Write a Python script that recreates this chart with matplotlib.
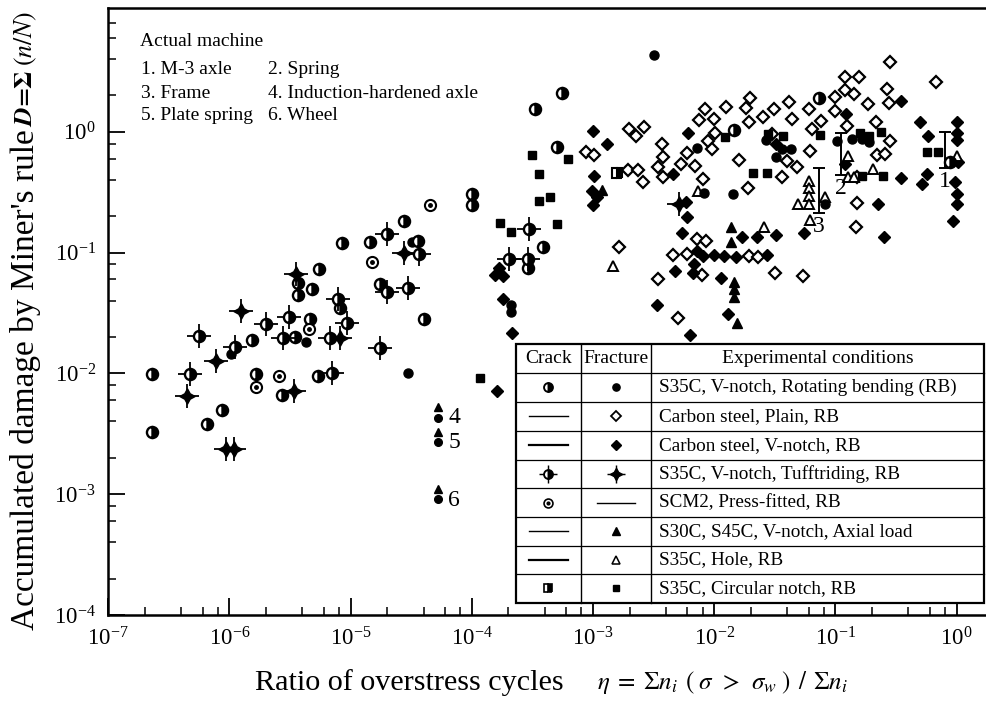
import matplotlib
matplotlib.use("Agg")
import matplotlib.pyplot as plt
from matplotlib.patches import Rectangle
from matplotlib.ticker import LogLocator, NullFormatter

plt.rcParams["font.family"] = ["Liberation Serif", "DejaVu Serif"]
plt.rcParams["mathtext.fontset"] = "stix"

# ---- data (eta, D) ----
# S35C, V-notch, rotating bending: crack (half circle) / fracture (filled circle)
rb_crack_x = [2.3e-7, 2.3e-7, 6.5e-7, 8.7e-7, 1.53e-6, 1.65e-6, 2.7e-6, 3.5e-6, 3.7e-6, 3.7e-6,
              4.6e-6, 4.8e-6, 5.4e-6, 5.5e-6, 8.2e-6, 8.5e-6, 1.44e-5, 2.75e-5, 3.6e-5, 1.75e-5,
              4.0e-5, 1.0e-4, 1.0e-4, 3.3e-4, 5.5e-4, 5.0e-4, 3.9e-4, 2.9e-4, 1.45e-2, 7.3e-2, 0.88]
rb_crack_y = [9.9e-3, 3.3e-3, 3.8e-3, 5.0e-3, 1.89e-2, 9.9e-3, 6.6e-3, 2.0e-2, 5.6e-2, 4.5e-2,
              2.8e-2, 5.0e-2, 9.5e-3, 7.3e-2, 3.5e-2, 0.12, 0.122, 0.182, 0.124, 5.5e-2,
              2.8e-2, 0.305, 0.247, 1.54, 2.09, 0.75, 0.111, 7.4e-2, 1.03, 1.9, 0.56]
rb_frac_x = [1.03e-6, 4.3e-6, 3.0e-5, 3.2e-5, 2.1e-4, 2.1e-4, 3.2e-3, 7.2e-3, 8.2e-3, 1.43e-2,
             2.67e-2, 3.23e-2, 3.6e-2, 4.3e-2, 8.2e-2, 0.103, 0.137, 0.166, 0.189]
rb_frac_y = [1.44e-2, 1.82e-2, 1.0e-2, 0.122, 3.7e-2, 3.25e-2, 4.3, 0.733, 0.311, 0.305,
             0.854, 0.617, 0.719, 0.719, 0.252, 0.838, 0.871, 0.871, 0.822]

# Carbon steel, plain, RB: fracture (open diamond)
plain_x = [8.7e-4, 1.02e-3, 1.94e-3, 2.35e-3, 2.58e-3, 1.98e-3, 2.26e-3, 2.63e-3, 1.64e-3, 3.43e-3,
           5.0e-3, 3.7e-3, 3.77e-3, 3.43e-3, 3.77e-3, 5.3e-3, 5.96e-3, 7.5e-3, 6.9e-3, 7.2e-3,
           4.56e-3, 5.96e-3, 8.4e-3, 1.0e-2, 1.25e-2, 1.83e-2, 1.97e-2, 1.93e-2, 2.52e-2, 3.1e-2,
           4.13e-2, 4.4e-2, 6.0e-2, 7.6e-2, 9.9e-2, 9.9e-2, 1.01e-2, 8.9e-3, 9.6e-3, 1.6e-2,
           8.1e-3, 1.9e-2, 3.6e-2, 4.0e-2, 4.8e-2, 3.0e-2, 6.2e-2, 6.4e-2, 8.6e-3, 1.93e-2,
           2.29e-2, 7.9e-3, 3.2e-2, 5.4e-2, 0.282, 0.120, 0.156, 0.120, 0.142, 0.266,
           0.185, 0.276, 0.675, 0.124, 0.216, 0.282, 0.22, 0.256, 0.150, 0.150, 0.148]
plain_y = [0.679, 0.641, 0.482, 0.482, 0.383, 1.05, 0.921, 1.09, 0.111, 6.0e-2,
           2.9e-2, 0.791, 0.617, 0.51, 0.422, 0.54, 0.666, 1.25, 0.52, 0.129,
           9.5e-2, 9.7e-2, 1.54, 1.27, 1.60, 1.57, 1.90, 1.20, 1.32, 1.54,
           1.76, 1.27, 1.54, 1.23, 1.94, 1.48, 0.975, 0.838, 0.719, 0.583,
           0.406, 0.342, 0.422, 0.572, 0.51, 0.957, 0.692, 1.05, 0.124, 9.35e-2,
           9.2e-2, 6.5e-2, 6.8e-2, 6.4e-2, 3.78, 2.84, 2.84, 2.21, 2.05, 2.26,
           1.70, 1.73, 2.58, 1.11, 1.20, 0.838, 0.641, 0.654, 0.422, 0.257, 0.163]

# Carbon steel, V-notch, RB: fracture (filled diamond)
vn_x = [1.55e-4, 1.67e-4, 1.81e-4, 1.81e-4, 2.14e-4, 1.61e-4,
        1.0e-3, 1.30e-3, 1.02e-3, 9.8e-4, 1.08e-3, 1.0e-3,
        3.37e-3, 6.3e-3, 4.56e-3, 6.07e-3, 5.84e-3, 5.96e-3, 5.41e-3, 4.74e-3, 6.8e-3, 6.67e-3,
        7.2e-3, 8.07e-3, 1.0e-2, 1.2e-2, 1.51e-2, 2.72e-2, 1.69e-2, 2.25e-2, 3.23e-2, 5.5e-2,
        1.14e-2, 1.30e-2, 3.23e-2,
        0.347, 0.122, 0.120, 0.347, 0.224, 0.251,
        0.498, 0.579, 0.569, 0.517,
        1.0, 1.0, 1.0, 1.03, 0.97, 1.0, 1.0, 0.93]
vn_y = [6.5e-2, 7.4e-2, 6.4e-2, 4.1e-2, 2.16e-2, 7.1e-3,
        1.01, 0.791, 0.43, 0.323, 0.288, 0.247,
        3.68e-2, 2.08e-2, 0.447, 0.975, 0.262, 0.197, 0.145, 7.0e-2, 8.0e-2, 6.8e-2,
        0.103, 9.35e-2, 9.5e-2, 9.35e-2, 9.2e-2, 9.5e-2, 0.134, 0.134, 0.140, 0.145,
        6.15e-2, 3.1e-2, 0.791,
        1.80, 1.40, 0.54, 0.414, 0.252, 0.134,
        1.20, 0.921, 0.447, 0.369,
        1.20, 0.975, 0.854, 0.561, 0.383, 0.305, 0.252, 0.182]

# S35C, V-notch, Tufftriding, RB
tuff_crack_x = [4.7e-7, 5.6e-7, 1.11e-6, 2.0e-6, 2.76e-6, 3.1e-6, 6.75e-6, 7.0e-6, 7.9e-6,
                9.3e-6, 1.75e-5, 2.0e-5, 2.0e-5, 3.0e-5, 3.66e-5, 2.02e-4, 2.9e-4, 2.96e-4]
tuff_crack_y = [9.9e-3, 2.04e-2, 1.65e-2, 2.56e-2, 1.96e-2, 2.92e-2, 1.96e-2, 1.0e-2, 4.1e-2,
                2.6e-2, 1.62e-2, 0.142, 4.7e-2, 5.1e-2, 9.7e-2, 8.8e-2, 8.8e-2, 0.157]
tuff_frac_x = [4.5e-7, 7.7e-7, 9.4e-7, 1.09e-6, 1.24e-6, 3.54e-6, 3.41e-6, 8.2e-6, 2.75e-5, 5.1e-3]
tuff_frac_y = [6.5e-3, 1.26e-2, 2.36e-3, 2.36e-3, 3.3e-2, 6.6e-2, 7.1e-3, 1.96e-2, 9.9e-2, 0.252]

# SCM2, press-fitted, RB: crack only
press_x = [1.65e-6, 2.56e-6, 4.5e-6, 1.5e-5, 4.5e-5]
press_y = [7.7e-3, 9.5e-3, 2.33e-2, 8.3e-2, 0.247]

# S30C, S45C, V-notch, axial load: fracture (filled triangle)
axial_x = [1.18e-3, 1.37e-2, 1.37e-2, 1.45e-2, 1.45e-2, 1.45e-2, 1.54e-2]
axial_y = [0.329, 0.163, 0.122, 5.7e-2, 5.0e-2, 4.3e-2, 2.6e-2]

# S35C, hole, RB: fracture (open triangle)
hole_x = [1.46e-3, 7.3e-3, 2.57e-2, 6.0e-2, 6.0e-2, 6.0e-2, 6.0e-2, 4.9e-2, 6.2e-2, 8.2e-2,
          0.127, 0.127, 0.142, 0.204, 1.0]
hole_y = [7.7e-2, 0.323, 0.163, 0.391, 0.342, 0.294, 0.252, 0.252, 0.186, 0.288,
          0.629, 0.422, 0.422, 0.491, 0.629]

# S35C, circular notch, RB
circ_crack_x = [1.57e-3]
circ_crack_y = [0.455]
circ_frac_x = [1.17e-4, 1.71e-4, 2.1e-4, 3.13e-4, 3.58e-4, 3.58e-4, 4.41e-4, 5.04e-4, 6.21e-4,
               1.22e-2, 2.09e-2, 2.72e-2, 2.77e-2, 3.69e-2, 7.45e-2, 0.159, 0.189, 0.237,
               0.166, 0.247, 0.569, 0.70]
circ_frac_y = [9.1e-3, 0.175, 0.148, 0.641, 0.447, 0.267, 0.288, 0.172, 0.594,
               0.904, 0.455, 0.455, 0.957, 0.921, 0.94, 0.975, 0.921, 0.99,
               0.43, 0.43, 0.679, 0.679]

# actual machines
mach_x = [5.3e-5, 5.3e-5, 5.3e-5]
mach_tri_y = [5.3e-3, 3.3e-3, 1.1e-3]
mach_circ_y = [4.3e-3, 2.7e-3, 9.1e-4]
mach_labels = ["4", "5", "6"]
bar_x = [0.80, 0.111, 7.3e-2]
bar_lo = [0.50, 0.438, 0.212]
bar_hi = [0.99, 0.975, 0.501]
bar_labels = ["1", "2", "3"]

machine_names = ["1. M-3 axle", "2. Spring", "3. Frame", "4. Induction-hardened axle",
                 "5. Plate spring", "6. Wheel"]
table_rows = [("half_o", "o_fill", "S35C, V-notch, Rotating bending (RB)"),
              ("line", "D_open", "Carbon steel, Plain, RB"),
              ("line2", "D_fill", "Carbon steel, V-notch, RB"),
              ("tuff_c", "tuff_f", "S35C, V-notch, Tufftriding, RB"),
              ("dot_o", "line", "SCM2, Press-fitted, RB"),
              ("line", "tri_fill", "S30C, S45C, V-notch, Axial load"),
              ("line2", "tri_open", "S35C, Hole, RB"),
              ("half_s", "s_fill", "S35C, Circular notch, RB")]

fig = plt.figure(figsize=(9.87, 7.01), dpi=100)
ax = fig.add_axes([0.1097, 0.1227, 0.8903, 0.8659])
ax.set_xscale("log"); ax.set_yscale("log")
ax.set_xlim(1e-7, 1.78); ax.set_ylim(1e-4, 10.6)


def draw(kind, x, y, s=1.0, **kw):
    k = dict(ls="none", **kw)
    z = k.pop("zorder", 3)
    if kind == "half_o":
        ax.plot(x, y, "o", ms=8*s, fillstyle="right", mfc="k", markerfacecoloralt="w",
                mec="k", mew=1.7*s, zorder=z, **k)
    elif kind == "o_fill":
        ax.plot(x, y, "o", ms=6.5*s, color="k", zorder=z, **k)
    elif kind == "D_open":
        ax.plot(x, y, "D", ms=6*s, mfc="w", mec="k", mew=1.6*s, zorder=z, **k)
    elif kind == "D_fill":
        ax.plot(x, y, "D", ms=6*s, color="k", zorder=z, **k)
    elif kind == "tuff_c":
        ax.plot(x, y, "+", ms=17*s, color="k", mew=1.3*s, zorder=z, **k)
        ax.plot(x, y, "o", ms=8*s, fillstyle="right", mfc="k", markerfacecoloralt="w",
                mec="k", mew=1.7*s, zorder=z + 0.1, **k)
    elif kind == "tuff_f":
        ax.plot(x, y, "+", ms=17*s, color="k", mew=1.3*s, zorder=z, **k)
        ax.plot(x, y, marker=(4, 1, 0), ms=11*s, color="k", zorder=z + 0.1, **k)
    elif kind == "dot_o":
        ax.plot(x, y, "o", ms=8*s, mfc="w", mec="k", mew=1.5*s, zorder=z, **k)
        ax.plot(x, y, "o", ms=2.5*s, color="k", zorder=z + 0.1, **k)
    elif kind == "tri_fill":
        ax.plot(x, y, "^", ms=7*s, color="k", zorder=z, **k)
    elif kind == "tri_open":
        ax.plot(x, y, "^", ms=7*s, mfc="w", mec="k", mew=1.4*s, zorder=z, **k)
    elif kind == "half_s":
        ax.plot(x, y, "s", ms=6.5*s, fillstyle="right", mfc="k", markerfacecoloralt="w",
                mec="k", mew=1.5*s, zorder=z, **k)
    elif kind == "s_fill":
        ax.plot(x, y, "s", ms=5.5*s, color="k", zorder=z, **k)


draw("D_open", plain_x, plain_y)
draw("D_fill", vn_x, vn_y)
draw("tri_open", hole_x, hole_y)
draw("tri_fill", axial_x, axial_y)
draw("s_fill", circ_frac_x, circ_frac_y)
draw("half_s", circ_crack_x, circ_crack_y)
draw("o_fill", rb_frac_x, rb_frac_y)
draw("half_o", rb_crack_x, rb_crack_y)
draw("tuff_c", tuff_crack_x, tuff_crack_y)
draw("tuff_f", tuff_frac_x, tuff_frac_y)
draw("dot_o", press_x, press_y)

# actual machines
ax.plot(mach_x, mach_tri_y, "^", ms=6, color="k", ls="none", zorder=4)
ax.plot(mach_x, mach_circ_y, "o", ms=5.5, color="k", ls="none", zorder=4)
for xx, yy, lab in zip(mach_x, mach_tri_y, mach_labels):
    ax.annotate(lab, (xx, yy), xytext=(7, -8), textcoords="offset points",
                fontsize=17, va="center", ha="left")
ax.errorbar(bar_x, [(l + h) / 2 for l, h in zip(bar_lo, bar_hi)], fmt="none",
            yerr=[[(l + h) / 2 - l for l, h in zip(bar_lo, bar_hi)],
                  [h - (l + h) / 2 for l, h in zip(bar_lo, bar_hi)]],
            ecolor="k", elinewidth=1.4, capsize=4, capthick=1.4, zorder=4)
for xx, lo, lab in zip(bar_x, bar_lo, bar_labels):
    ax.annotate(lab, (xx, lo), xytext=(0, -2), textcoords="offset points",
                fontsize=17, va="top", ha="center")

# axes styling
ax.set_xticks([1e-7, 1e-6, 1e-5, 1e-4, 1e-3, 1e-2, 1e-1, 1e0])
ax.set_yticks([1e-4, 1e-3, 1e-2, 1e-1, 1e0])
ax.xaxis.set_minor_locator(LogLocator(base=10, subs=(2, 4, 6, 8), numticks=20))
ax.yaxis.set_minor_locator(LogLocator(base=10, subs=(2, 4, 6, 8), numticks=20))
ax.xaxis.set_minor_formatter(NullFormatter()); ax.yaxis.set_minor_formatter(NullFormatter())
ax.tick_params(which="major", direction="in", length=12, width=1.3, labelsize=16.5, pad=9)
ax.tick_params(which="minor", direction="in", length=6, width=1.1)
ax.tick_params(top=False, right=False)
for sp in ["left", "bottom", "top"]:
    ax.spines[sp].set_linewidth(1.8)
ax.spines["right"].set_visible(False)

# axis labels as figure text
fig.text(255 / 987, 1 - 683 / 701, "Ratio of overstress cycles", fontsize=21.7,
         ha="left", va="center")
fig.text(597 / 987, 1 - 683 / 701,
         r"$\eta\;=\;\Sigma n_i\,\;(\;\sigma\;\,>\;\,\sigma_w\;)\,\;/\,\;\Sigma n_i$",
         fontsize=18, ha="left", va="center")
fig.text(26 / 987, 1 - 630 / 701, "Accumulated damage by Miner's rule", fontsize=24,
         rotation=90, ha="center", va="bottom")
fig.text(26 / 987, 1 - 127 / 701, r"$\boldsymbol{D\!=\!\Sigma}\;(n/N)$", fontsize=18.5,
         rotation=90, ha="center", va="bottom")

# actual machine key
fig.text(140 / 987, 1 - 41 / 701, "Actual machine", fontsize=14, ha="left", va="center")
for i, name in enumerate(machine_names):
    fig.text((141 if i % 2 == 0 else 268) / 987, 1 - (70 + 23 * (i // 2)) / 701, name,
             fontsize=14, ha="left", va="center")

# legend table (axes fractions)
tx0, tx1, tc1, tc2 = 0.4636, 0.9966, 0.538, 0.6173
rows_y = [0.4465, 0.3987, 0.3509, 0.3031, 0.2554, 0.2092, 0.1614, 0.1137, 0.0675, 0.0198]
T = ax.transAxes
ax.add_patch(Rectangle((tx0, rows_y[-1]), tx1 - tx0, rows_y[0] - rows_y[-1], transform=T,
                       fc="w", ec="k", lw=1.6, zorder=6, clip_on=False))
for yy in rows_y[1:-1]:
    ax.plot([tx0, tx1], [yy, yy], transform=T, color="k", lw=0.9, zorder=7, clip_on=False)
for xx in (tc1, tc2):
    ax.plot([xx, xx], [rows_y[-1], rows_y[0]], transform=T, color="k", lw=1.0, zorder=7,
            clip_on=False)
hy = (rows_y[0] + rows_y[1]) / 2
ax.text((tx0 + tc1) / 2, hy, "Crack", transform=T, fontsize=14, ha="center", va="center", zorder=8)
ax.text((tc1 + tc2) / 2, hy, "Fracture", transform=T, fontsize=14, ha="center", va="center", zorder=8)
ax.text((tc2 + tx1) / 2, hy, "Experimental conditions", transform=T, fontsize=14,
        ha="center", va="center", zorder=8)
for i, (ck, fk, label) in enumerate(table_rows):
    yc = (rows_y[i + 1] + rows_y[i + 2]) / 2
    for kind, xc in ((ck, (tx0 + tc1) / 2), (fk, (tc1 + tc2) / 2)):
        if kind.startswith("line"):
            ax.plot([xc - 0.022, xc + 0.022], [yc, yc], transform=T, color="k",
                    lw=1.0 if kind == "line" else 1.6, zorder=8, clip_on=False)
        else:
            draw(kind, [xc], [yc], s=0.8, transform=T, clip_on=False, zorder=8)
    ax.text(tc2 + 0.009, yc, label, transform=T, fontsize=13.8, ha="left", va="center", zorder=8)

fig.savefig("out.png", dpi=100)
